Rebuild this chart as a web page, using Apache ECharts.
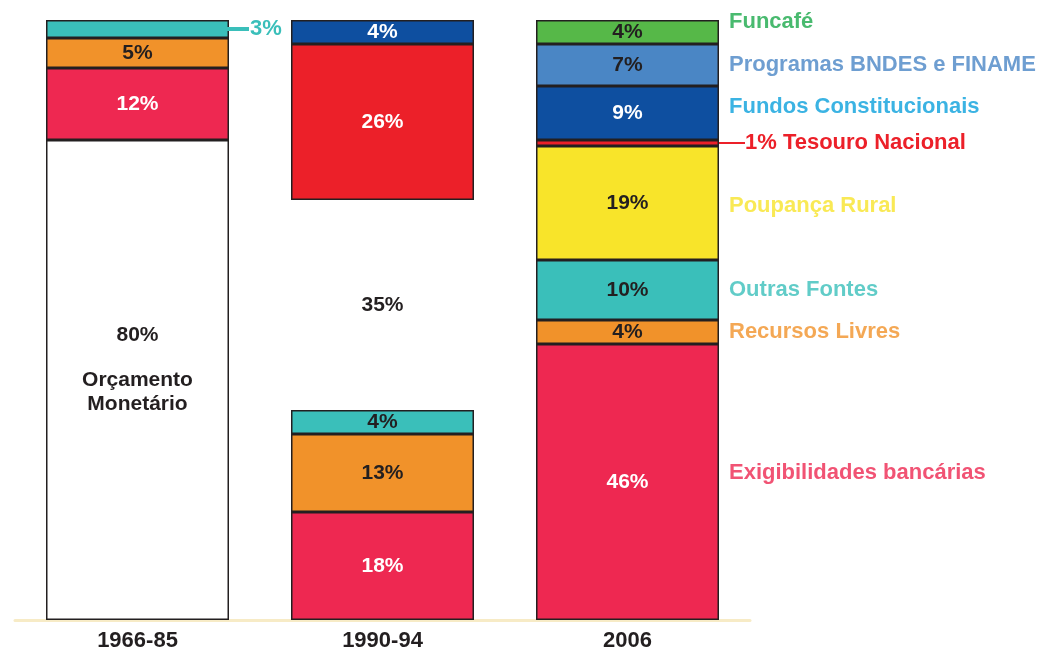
<!DOCTYPE html>
<html>
<head>
<meta charset="utf-8">
<script src="https://cdn.jsdelivr.net/npm/echarts@6/dist/echarts.min.js"></script>
<style>
  html, body { margin: 0; padding: 0; background: #fff; }
  #chart { width: 1037px; height: 652px; }
</style>
</head>
<body>
<div id="chart"></div>
<script>
// periods on the x axis
var categories = ['1966-85', '1990-94', '2006']

// shares per period, listed bottom to top (%)
var bar1966 = [80, 12, 5, 3]
var bar1990 = [18, 13, 4, 35, 26, 4]
var bar2006 = [46, 4, 10, 19, 1, 9, 7, 4]

// funding source of each segment, same order
var src1966 = ['Orçamento Monetário', 'Exigibilidades bancárias', 'Recursos Livres', 'Outras Fontes']
var src1990 = ['Exigibilidades bancárias', 'Recursos Livres', 'Outras Fontes', '', 'Tesouro', 'Fundos Constitucionais']
var src2006 = ['Exigibilidades bancárias', 'Recursos Livres', 'Outras Fontes', 'Poupança Rural',
    'Tesouro Nacional', 'Fundos Constitucionais', 'Programas BNDES e FINAME', 'Funcafé']

var FONT = 'Liberation Sans, Arial, sans-serif'
var DARK = '#231f20'

var fill = {
    'Orçamento Monetário': '#ffffff',
    'Exigibilidades bancárias': '#ee2851',
    'Recursos Livres': '#f1922a',
    'Outras Fontes': '#3abfba',
    'Poupança Rural': '#f8e42a',
    'Tesouro': '#ec2029',
    'Tesouro Nacional': '#ec2029',
    'Fundos Constitucionais': '#0e4fa0',
    'Programas BNDES e FINAME': '#4a86c5',
    'Funcafé': '#56b848',
    '': 'transparent'
}
var inText = {
    'Exigibilidades bancárias': '#ffffff',
    'Tesouro': '#ffffff',
    'Fundos Constitucionais': '#ffffff'
}
var sideText = {
    'Funcafé': '#1ba94b',
    'Programas BNDES e FINAME': '#4a86c5',
    'Fundos Constitucionais': '#0aa0dc',
    'Tesouro Nacional': '#ec2029',
    'Poupança Rural': '#f8e42a',
    'Outras Fontes': '#3abfba',
    'Recursos Livres': '#f1922a',
    'Exigibilidades bancárias': '#ee2851'
}
var sideOffset = {
    'Funcafé': [0, -10],
    'Fundos Constitucionais': [0, -6],
    'Poupança Rural': [0, 3],
    'Exigibilidades bancárias': [0, -9]
}

function makeItem (v, src, barIdx) {
    if (v === undefined) return '-'
    var item = {
        value: v,
        itemStyle: {
            color: fill[src],
            borderColor: src === '' ? 'transparent' : DARK,
            borderWidth: src === '' ? 0 : 1.5
        },
        label: {
            show: true,
            formatter: v + '%',
            color: inText[src] || DARK
        }
    }
    if (src === 'Orçamento Monetário') {
        item.label.formatter = '{a|80%}\n\n{a|Orçamento}\n{a|Monetário}'
        item.label.offset = [0, -10]
        item.label.rich = { a: { fontFamily: FONT, fontWeight: 'bold', fontSize: 21, lineHeight: 24, color: DARK } }
    }
    if (barIdx === 0 && src === 'Outras Fontes') {
        item.label.position = 'right'
        item.label.distance = -4
        item.label.formatter = '{ln|}{t|' + v + '%}'
        item.label.rich = {
            ln: { width: 24, height: 4, backgroundColor: '#3abfba' },
            t: { fontFamily: FONT, fontWeight: 'bold', fontSize: 22, color: '#3abfba', padding: [0, 0, 0, 1] }
        }
    }
    if (src === 'Tesouro Nacional') {
        item.label.position = 'right'
        item.label.distance = 0
        item.label.formatter = '{ln|}{t|' + v + '% Tesouro Nacional}'
        item.label.rich = {
            ln: { width: 26, height: 2, backgroundColor: '#ec2029' },
            t: { fontFamily: FONT, fontWeight: 'bold', fontSize: 22, color: '#ec2029' }
        }
    }
    return item
}

var bars = [bar1966, bar1990, bar2006]
var srcs = [src1966, src1990, src2006]
var layers = Math.max(bar1966.length, bar1990.length, bar2006.length)
var series = []
for (var i = 0; i < layers; i++) {
    series.push({
        type: 'bar',
        stack: 'total',
        barWidth: 183,
        label: { fontFamily: FONT, fontWeight: 'bold', fontSize: 21 },
        data: bars.map(function (b, k) { return makeItem(b[i], srcs[k][i], k) })
    })
}

// names written beside the 2006 bar, at the middle of each segment
var sideData = []
var cum = 0
for (var j = 0; j < bar2006.length; j++) {
    var name = src2006[j]
    if (name !== 'Tesouro Nacional') {
        sideData.push({
            value: [categories[2], cum + bar2006[j] / 2],
            label: { formatter: name, color: sideText[name], offset: sideOffset[name] || [0, 0] }
        })
    }
    cum += bar2006[j]
}
series.push({
    type: 'scatter',
    symbolSize: 1,
    itemStyle: { color: 'transparent' },
    silent: true,
    label: {
        show: true,
        position: 'right',
        distance: 101,
        fontFamily: FONT,
        fontWeight: 'bold',
        fontSize: 22
    },
    data: sideData
})

var chart = echarts.init(document.getElementById('chart'))
chart.setOption({
    animation: false,
    backgroundColor: '#ffffff',
    // 600px plot height -> 6px per percent, so segment edges land on whole pixels
    grid: { left: 15, right: 287, top: 20, bottom: 32 },
    xAxis: {
        type: 'category',
        data: categories,
        offset: 6,
        axisLine: { lineStyle: { color: '#f7ebc6', width: 3 } },
        axisTick: { show: false },
        axisLabel: {
            margin: 4,
            fontFamily: 'Liberation Sans Narrow, Liberation Sans, Arial, sans-serif',
            fontWeight: 'bold',
            fontSize: 22,
            color: DARK
        }
    },
    yAxis: { type: 'value', min: 0, max: 100, show: false },
    series: series
})
window.onresize = chart.resize
</script>
</body>
</html>
